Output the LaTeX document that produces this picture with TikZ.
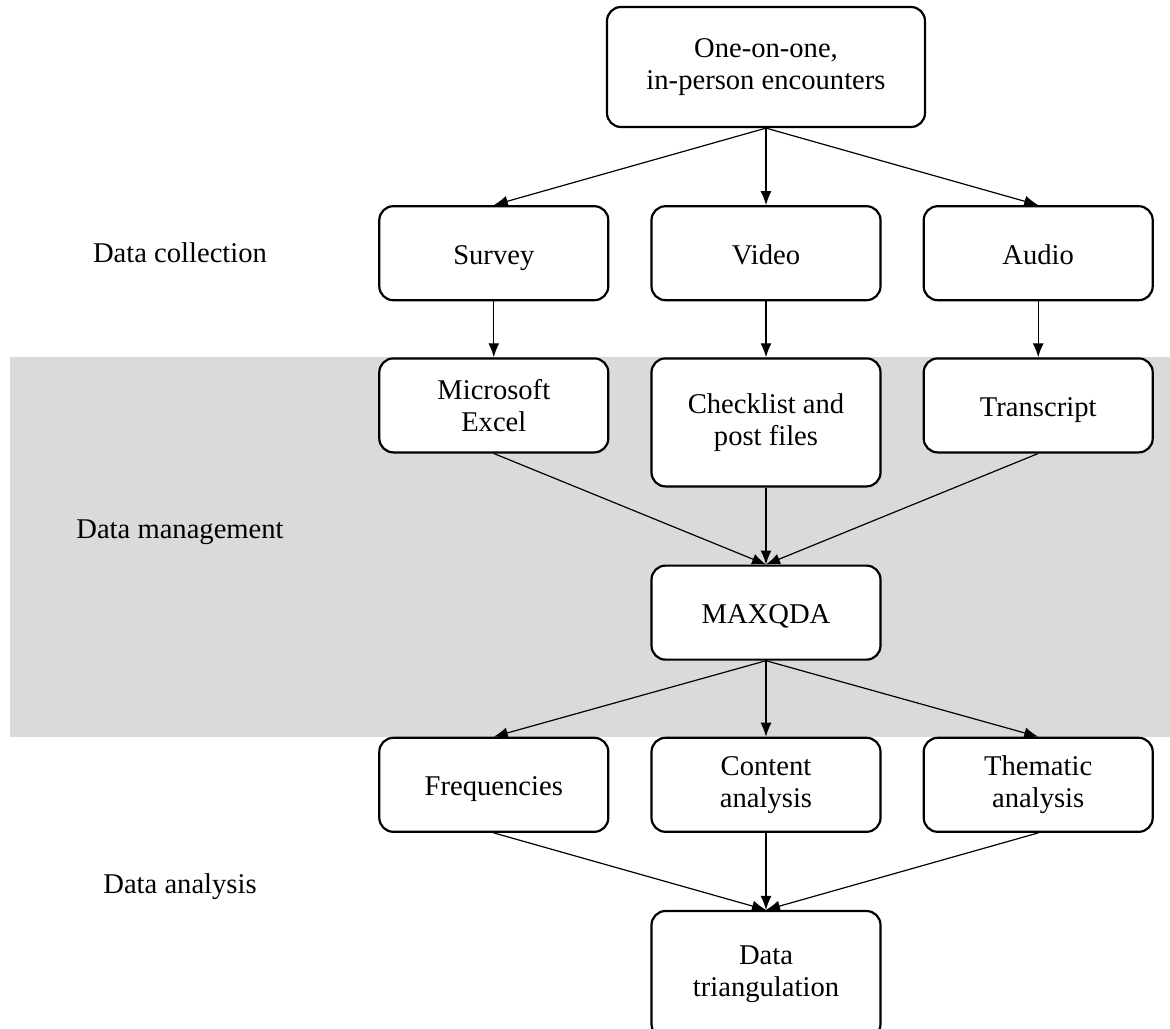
\documentclass[tikz,border=0pt]{standalone}
\usepackage{fontspec}
\setmainfont{Liberation Serif}
\usepackage{xcolor}
\usetikzlibrary{positioning,backgrounds,arrows.meta}
\definecolor{bandgrey}{RGB}{217,218,218}

\begin{document}
\begin{tikzpicture}[
    x=0.5pt, y=-0.5pt,
    font=\fontsize{14.3pt}{16pt}\selectfont,
    st-box/.style={draw, line width=1.1pt, rounded corners=7pt, fill=white, align=center,
      minimum width=114.5pt, minimum height=47pt, inner sep=2pt},
    one-line/.style={text height=12pt, text depth=1pt},
    flow-arr/.style={-{Latex[length=7pt,width=5.5pt]}, line width=0.6pt},
    node distance=38.5pt and 20.5pt
  ]
\useasboundingbox (0,0) rectangle (1170,1028);

% Encounters
\node[st-box, minimum width=159pt, minimum height=60pt] (enc) at (766,67) {One-on-one,\\in-person encounters};

% Data collection row
\node[st-box, one-line, below=of enc] (video) {Video};
\node[st-box, one-line, left=of video] (survey) {Survey};
\node[st-box, one-line, right=of video] (audio) {Audio};

% Data management row
\node[st-box, below=28pt of survey] (excel) {Microsoft\\Excel};
\node[st-box, below=28pt of video, minimum height=64pt] (check) {Checklist and\\post files};
\node[st-box, one-line, below=28pt of audio] (transc) {Transcript};
\node[st-box, one-line, below=of check] (maxqda) {MAXQDA};

% Data analysis row
\node[st-box, below=38pt of maxqda] (content) {Content\\analysis};
\node[st-box, one-line, left=of content] (freq) {Frequencies};
\node[st-box, right=of content] (thema) {Thematic\\analysis};
\node[st-box, below=of content, minimum height=63.5pt] (triang) {Data\\triangulation};

% Stage labels
\coordinate (lx) at (180,0);
\node (lcoll) at (lx |- survey) {Data collection};
\node (lmgmt) at (180,532) {Data management};
\node (lanal) at (180,887) {Data analysis};

% Grey band
\begin{scope}[on background layer]
\fill[bandgrey] (10,0 |- excel.north) rectangle (1170,0 |- content.north);
\end{scope}

% Arrows
\draw[flow-arr] (enc.south) -- (survey.north);
\draw[flow-arr] (enc.south) -- (video.north);
\draw[flow-arr] (enc.south) -- (audio.north);
\draw[flow-arr] (survey) -- (excel);
\draw[flow-arr] (video) -- (check);
\draw[flow-arr] (audio) -- (transc);
\draw[flow-arr] (excel.south) -- (maxqda.north);
\draw[flow-arr] (check.south) -- (maxqda.north);
\draw[flow-arr] (transc.south) -- (maxqda.north);
\draw[flow-arr] (maxqda.south) -- (freq.north);
\draw[flow-arr] (maxqda.south) -- (content.north);
\draw[flow-arr] (maxqda.south) -- (thema.north);
\draw[flow-arr] (freq.south) -- (triang.north);
\draw[flow-arr] (content.south) -- (triang.north);
\draw[flow-arr] (thema.south) -- (triang.north);

\end{tikzpicture}
\end{document}
